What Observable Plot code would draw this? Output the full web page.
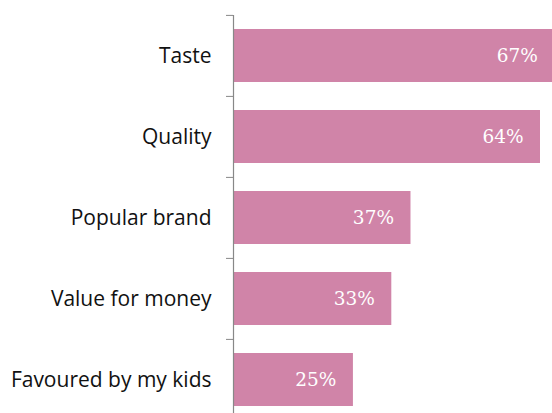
<!DOCTYPE html>
<html><head><meta charset="utf-8">
<script src="https://cdn.jsdelivr.net/npm/d3@7"></script>
<script src="https://cdn.jsdelivr.net/npm/@observablehq/plot@0.6"></script>
<style>body{margin:0;background:#fff}svg{display:block}</style>
</head><body><div id="chart"></div>
<script>
const categories = ["Taste", "Quality", "Popular brand", "Value for money", "Favoured by my kids"];
const values = [67, 64, 37, 33, 25];
const data = categories.map((c, i) => ({category: c, value: values[i]}));
const barColor = "#d084a8";
const chart = Plot.plot({
  width: 552, height: 413,
  marginLeft: 233, marginRight: 0, marginTop: 15, marginBottom: 0,
  style: {background: "#fff", overflow: "hidden"},
  x: {domain: [0, 64], range: [233, 540], axis: null},
  y: {domain: categories, range: [15, 421], paddingInner: 0.34, paddingOuter: 0.17, label: null},
  marks: [
    Plot.barX(data, {y: "category", x: "value", fill: barColor}),
    Plot.text(data, {y: "category", x: "value", text: d => d.value + "%", textAnchor: "end", dx: -17, fill: "white", fontFamily: "DejaVu Serif", fontSize: 18.5}),
    Plot.axisY({tickSize: 0, tickPadding: 22, fontFamily: "Open Sans", fontSize: 21, fill: "#111", label: null}),
    Plot.axisY({tickSize: 7, text: null, dy: -40.6, stroke: "#888", label: null}),
    Plot.ruleX([0], {stroke: "#888", strokeWidth: 1.2})
  ]
});
document.getElementById("chart").append(chart);
</script></body></html>
